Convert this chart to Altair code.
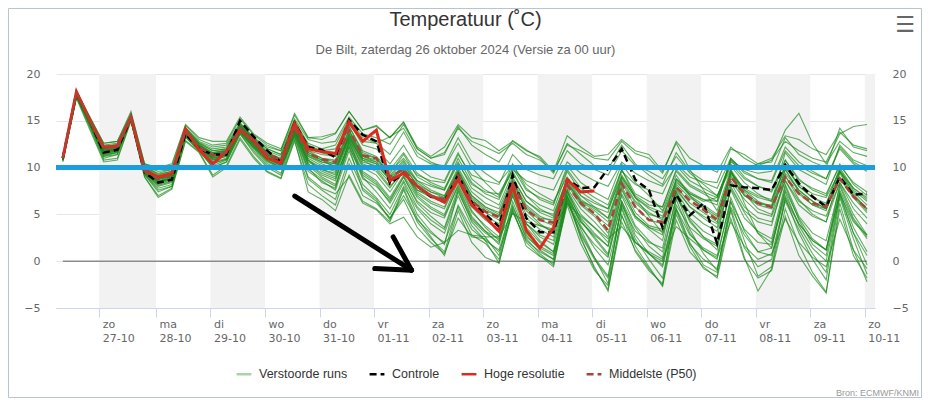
import altair as alt
import pandas as pd

TITLE = "Temperatuur (˚C)"
SUBTITLE = "De Bilt, zaterdag 26 oktober 2024 (Versie za 00 uur)"
SOURCE = "Bron: ECMWF/KNMI"
MENU = "☰"
SERIES = ["Verstoorde runs", "Controle", "Hoge resolutie", "Middelste (P50)"]
COLORS = ["#a8d4a8", "#000000", "#dd2a1f", "#a8453b"]
DASHES = [[1, 0], [7, 4], [1, 0], [7, 4]]

# forecast steps: hours after Sunday 27-10 00:00 local time (6-hourly)
STEP_HOURS = [-16 + 6 * i for i in range(60)]

DAY_TICKS = [0, 25, 49, 73, 97, 121, 145, 169, 193, 217, 241, 265, 289, 313, 337]
DAY_NAMES = ["zo", "ma", "di", "wo", "do", "vr", "za", "zo", "ma", "di", "wo", "do", "vr", "za", "zo"]
DAY_DATES = ["27-10", "28-10", "29-10", "30-10", "31-10", "01-11", "02-11", "03-11",
             "04-11", "05-11", "06-11", "07-11", "08-11", "09-11", "10-11"]
X_DOMAIN = [-19, 341.5]
Y_DOMAIN = [-5, 20]
Y_TICKS = [-5, 0, 5, 10, 15, 20]
MARK_LEVEL = 10

CONTROLE = [11.0, 18.0, 15.0, 11.6, 11.9, 15.3, 9.5, 8.4, 8.7, 13.6, 12.0, 11.4, 11.4, 15.0, 13.3, 11.8, 10.6,
            14.8, 12.2, 11.9, 11.1, 15.1, 13.5, 12.8, 8.3, 9.4, 8.0, 6.9, 6.4,
            9.2, 6.3, 5.0, 3.7, 9.2, 4.6, 3.1, 3.1, 8.7, 7.8, 7.9, 9.9,
            12.0, 8.7, 7.6, 3.6, 7.1, 4.9, 6.2, 1.9, 8.1, 7.9, 7.8, 7.6,
            10.3, 8.3, 6.9, 5.8, 9.0, 7.1, 7.2]
HOGE_RES = [11.0, 18.1, 15.0, 12.2, 12.3, 15.4, 9.7, 9.0, 9.4, 14.1, 11.9, 10.4, 11.7, 14.0, 12.9, 11.0, 10.5,
            14.7, 12.0, 11.7, 11.5, 14.9, 12.8, 14.0, 8.6, 9.4, 8.0, 7.0, 6.3,
            8.7, 6.0, 4.7, 3.2, 8.1, 3.3, 1.4, 3.6, 8.7, 7.4, 7.5]
P50 = [11.0, 18.0, 15.0, 12.0, 12.2, 15.4, 9.6, 8.8, 9.2, 13.9, 12.2, 11.3, 11.6, 14.2, 12.6, 11.5, 10.8,
       14.2, 11.5, 10.9, 10.6, 14.0, 11.3, 11.0, 9.0, 9.8, 8.0, 7.0, 6.6,
       9.2, 6.4, 5.3, 4.7, 8.3, 5.5, 4.4, 4.1, 8.1, 6.2, 5.1, 3.3,
       8.3, 5.8, 4.4, 4.2, 7.9, 6.5, 5.5, 4.4, 9.0, 7.2, 6.2, 5.8,
       9.0, 7.2, 6.2, 5.8, 8.8, 6.9, 5.6]

MEMBERS = [
    [11.0, 17.9, 15.2, 12.4, 12.6, 15.6, 10.2, 9.6, 9.8, 14.2, 12.8, 12.2, 12.4, 14.8, 13.2, 12.2, 11.8,
     15.2, 13.0, 12.6, 12.8, 15.4, 13.6, 13.2, 12.5, 14.6, 12.0, 11.0, 11.6,
     14.2, 12.8, 12.2, 11.5, 12.6, 11.4, 10.8, 9.6, 12.4, 11.8, 11.0, 10.8,
     12.8, 11.5, 11.0, 9.4, 12.8, 11.0, 10.2, 9.5, 12.2, 11.0, 10.2, 10.8,
     12.8, 11.8, 11.0, 10.6, 13.6, 14.4, 14.6],
    [10.8, 17.6, 14.4, 11.0, 11.4, 15.2, 9.2, 7.4, 8.0, 13.2, 11.8, 10.0, 10.6, 13.6, 11.8, 10.2, 9.4,
     13.6, 10.0, 8.4, 7.8, 12.8, 9.0, 7.4, 5.6, 8.4, 5.0, 3.2, 1.8,
     7.6, 4.2, 2.6, 0.6, 6.4, 2.8, 1.2, 0.2, 7.0, 3.4, 0.4, -2.4,
     6.2, 2.4, 0.2, -1.8, 5.6, 2.0, -0.4, -1.2, 6.4, 2.2, -1.6, -0.6,
     6.8, 3.0, 0.2, -2.0, 6.8, 2.4, -1.4],
    [11.1, 18.1, 15.1, 12.2, 12.4, 15.5, 10.0, 9.0, 9.4, 14.0, 12.5, 11.6, 11.9, 14.5, 13.0, 11.6, 11.0,
     14.6, 11.8, 11.4, 11.2, 14.4, 11.8, 11.2, 9.8, 11.6, 9.4, 8.4, 7.8,
     10.6, 7.8, 6.8, 6.0, 9.4, 7.0, 6.0, 5.4, 9.6, 7.4, 6.4, 5.6,
     9.8, 7.2, 6.4, 5.8, 9.6, 8.0, 7.2, 6.4, 10.4, 8.8, 8.0, 7.6,
     10.8, 8.6, 7.8, 7.2, 10.2, 8.4, 7.4],
    [10.9, 17.8, 14.8, 11.8, 12.0, 15.3, 9.6, 8.6, 8.8, 13.8, 12.2, 11.0, 11.4, 14.2, 12.6, 11.2, 10.4,
     14.2, 11.2, 10.4, 9.8, 13.2, 10.4, 9.8, 8.0, 9.6, 7.4, 6.4, 5.8,
     9.0, 6.2, 4.8, 4.0, 8.0, 5.0, 3.8, 3.2, 7.8, 5.6, 4.2, 2.6,
     8.0, 5.2, 3.8, 3.4, 7.6, 5.8, 4.6, 3.6, 8.6, 6.6, 5.2, 4.8,
     8.6, 6.4, 5.4, 4.8, 8.4, 6.2, 4.6],
    [11.0, 18.0, 15.3, 12.6, 12.8, 15.8, 10.4, 10.0, 10.4, 14.6, 13.2, 12.8, 12.8, 15.4, 13.6, 12.6, 12.0,
     15.6, 13.2, 13.0, 13.6, 16.0, 14.0, 14.4, 13.2, 14.8, 12.2, 11.2, 12.2,
     14.6, 13.2, 12.9, 11.8, 12.8, 11.8, 11.2, 9.6, 13.4, 12.2, 11.2, 11.4,
     13.0, 11.8, 11.4, 9.6, 12.6, 9.8, 7.6, 5.4, 9.8, 6.2, 3.0, 1.4,
     8.0, 4.4, 1.8, 0.6, 7.4, 3.6, 1.0],
    [10.7, 17.5, 14.2, 10.8, 11.0, 15.0, 9.0, 7.0, 7.8, 12.9, 11.7, 9.2, 10.2, 13.2, 11.2, 9.6, 8.9,
     13.0, 7.4, 6.6, 5.4, 9.2, 6.4, 5.6, 4.2, 7.6, 4.2, 2.4, 1.0,
     6.0, 3.4, 2.2, -0.2, 5.4, 2.0, 0.6, -0.6, 6.4, 2.6, -0.8, -3.0,
     4.2, 1.2, -0.8, -2.6, 6.8, 4.6, 3.2, 2.4, 9.6, 7.6, 6.8, 6.4,
     11.6, 9.8, 9.0, 8.2, 12.4, 10.8, 10.2],
    [11.0, 17.9, 14.9, 11.9, 12.1, 15.4, 9.8, 8.8, 9.2, 13.9, 12.3, 11.2, 11.6, 14.2, 12.8, 11.4, 10.6,
     14.0, 10.8, 9.6, 9.0, 12.4, 8.8, 8.0, 6.4, 9.0, 6.4, 5.2, 4.6,
     8.2, 5.2, 3.8, 2.6, 7.4, 4.0, 2.6, 1.8, 7.0, 4.2, 2.6, 0.8,
     7.2, 4.6, 3.4, 2.2, 8.8, 7.4, 6.6, 6.0, 11.0, 9.4, 8.8, 8.6,
     12.2, 10.6, 9.6, 8.8, 12.0, 10.4, 9.6],
    [11.1, 18.2, 15.2, 12.3, 12.4, 15.6, 10.1, 9.3, 9.6, 14.2, 12.6, 11.8, 12.0, 14.6, 13.1, 12.0, 11.4,
     15.0, 12.6, 12.0, 12.4, 15.2, 13.2, 12.6, 11.4, 13.8, 11.2, 10.4, 10.2,
     13.2, 10.6, 9.4, 8.4, 10.2, 8.2, 7.2, 6.4, 9.0, 7.0, 5.8, 4.6,
     8.6, 6.2, 5.0, 4.6, 8.2, 6.8, 5.8, 4.8, 9.4, 7.4, 6.2, 5.8,
     9.4, 7.6, 6.4, 5.6, 9.0, 7.0, 5.6],
    [10.9, 17.7, 14.6, 11.4, 11.8, 15.2, 9.4, 8.2, 8.6, 13.6, 12.0, 10.6, 11.0, 13.9, 12.2, 10.8, 10.0,
     13.8, 10.6, 9.8, 9.4, 13.6, 11.0, 10.4, 8.6, 10.4, 8.0, 7.0, 6.2,
     9.6, 6.8, 5.6, 4.8, 8.6, 5.4, 4.0, 3.0, 7.6, 4.4, 2.4, 0.6,
     6.4, 2.8, 0.8, -0.6, 5.4, 1.8, 0.2, -0.8, 5.6, 1.4, -0.6, 0.2,
     6.4, 3.4, 0.8, -1.2, 7.2, 3.0, -0.4],
    [11.0, 18.0, 15.0, 12.0, 12.3, 15.5, 9.9, 9.0, 9.3, 14.0, 12.4, 11.4, 11.8, 14.4, 12.9, 11.6, 10.8,
     14.4, 11.6, 11.0, 10.8, 14.0, 11.4, 11.0, 9.2, 10.8, 8.6, 7.6, 7.0,
     10.0, 7.4, 6.2, 5.6, 9.0, 6.4, 5.2, 4.6, 8.6, 6.4, 5.4, 4.2,
     9.0, 6.8, 5.6, 4.8, 8.4, 7.2, 6.4, 6.8, 10.6, 9.8, 10.4, 10.6,
     14.0, 15.8, 12.6, 10.4, 12.8, 11.6, 11.2],
    [10.8, 17.6, 14.5, 11.2, 11.6, 15.1, 9.3, 7.8, 8.2, 13.4, 11.9, 10.2, 10.8, 13.7, 12.0, 10.4, 9.8,
     13.4, 9.6, 8.6, 7.6, 11.8, 8.2, 6.8, 5.0, 8.0, 5.6, 4.0, 3.0,
     7.0, 3.8, 2.2, 1.2, 6.0, 2.4, 0.8, -0.4, 6.6, 3.0, 0.4, -1.6,
     5.8, 2.0, 0.8, -0.4, 6.0, 3.6, 2.4, 1.6, 8.0, 5.4, 4.2, 3.8,
     9.2, 6.6, 5.0, 4.2, 9.6, 7.4, 6.0],
    [11.0, 18.1, 15.1, 12.1, 12.2, 15.4, 9.7, 8.9, 9.0, 13.9, 12.2, 11.4, 11.6, 14.3, 12.7, 11.3, 10.7,
     14.3, 11.4, 10.6, 10.2, 13.4, 10.6, 10.2, 8.8, 9.8, 7.6, 6.8, 6.6,
     9.4, 6.6, 5.4, 4.8, 8.4, 5.8, 4.6, 4.4, 8.4, 6.4, 5.8, 5.2,
     9.6, 8.2, 7.6, 7.2, 10.4, 9.0, 8.4, 7.8, 11.0, 9.6, 8.8, 8.4,
     11.8, 10.2, 9.4, 8.8, 12.2, 10.6, 9.8],
    [10.9, 17.8, 14.7, 11.6, 11.8, 15.2, 9.5, 8.4, 8.8, 13.7, 12.1, 10.8, 11.2, 14.0, 12.4, 11.0, 10.2,
     14.0, 10.4, 9.2, 8.6, 12.8, 9.6, 8.6, 6.8, 9.2, 6.8, 5.6, 4.8,
     8.0, 4.8, 3.2, 1.8, 7.0, 3.6, 2.0, 1.0, 7.0, 2.4, -0.6, -3.2,
     5.0, 1.0, -1.0, -2.4, 5.0, 1.6, -0.8, -1.6, 5.4, 0.4, -3.2, -0.8,
     5.6, 1.8, -1.2, -3.3, 6.2, 1.2, -2.2],
    [11.0, 18.0, 15.1, 12.0, 12.2, 15.4, 9.9, 8.9, 9.2, 14.0, 12.4, 11.5, 11.8, 14.4, 12.9, 11.5, 10.9,
     14.5, 12.2, 11.8, 11.6, 14.8, 12.4, 12.0, 10.4, 12.4, 10.0, 9.0, 8.6,
     11.6, 8.8, 7.6, 6.8, 10.4, 7.8, 6.6, 6.0, 10.2, 8.4, 7.4, 6.6,
     10.4, 8.4, 7.0, 5.4, 9.2, 7.0, 5.6, 4.6, 9.6, 7.2, 5.6, 5.0,
     9.8, 7.4, 6.0, 5.4, 9.4, 7.0, 5.4],
    [10.8, 17.7, 14.6, 11.4, 11.6, 15.2, 9.4, 8.0, 8.4, 13.5, 11.9, 10.4, 10.9, 13.8, 12.1, 10.6, 9.9,
     13.6, 9.8, 8.8, 8.0, 12.2, 7.6, 6.4, 4.6, 7.0, 4.4, 3.0, 2.0,
     5.8, 2.8, 1.9, 0.2, 5.8, 2.6, 1.4, 0.6, 6.8, 4.2, 2.8, 1.6,
     7.6, 4.8, 3.6, 2.8, 7.4, 4.2, 2.6, 1.8, 7.6, 4.6, 3.2, 2.4,
     8.2, 4.8, 3.0, 2.2, 8.0, 4.6, 2.6],
    [11.0, 18.0, 14.9, 11.9, 12.1, 15.4, 9.8, 8.8, 9.0, 13.9, 12.3, 11.3, 11.6, 14.3, 12.7, 11.4, 10.6,
     14.3, 11.2, 10.6, 10.4, 13.8, 11.2, 10.8, 9.4, 11.4, 9.0, 8.2, 7.6,
     11.0, 8.4, 7.2, 6.6, 10.0, 7.6, 6.8, 6.2, 9.8, 7.8, 6.8, 6.0,
     9.8, 6.8, 4.8, 3.0, 7.2, 3.4, 0.8, -1.0, 5.8, 2.8, 1.0, 0.6,
     6.6, 4.0, 2.2, 1.2, 7.2, 4.2, 2.8],
    [10.6, 17.4, 14.0, 10.6, 10.8, 15.0, 9.0, 6.8, 7.7, 12.8, 11.6, 9.0, 10.0, 13.0, 11.0, 9.5, 8.8,
     12.8, 8.2, 7.0, 6.0, 10.4, 7.0, 6.2, 4.6, 6.6, 3.6, 2.0, 0.8,
     4.6, 2.6, 2.4, 1.0, 5.2, 2.2, 1.0, 0.2, 6.2, 3.6, 1.8, 0.4,
     6.4, 3.6, 1.6, 0.4, 7.0, 4.4, 2.6, 1.2, 7.8, 5.2, 3.0, 2.0,
     7.6, 4.6, 2.4, 1.2, 8.2, 5.0, 2.8],
    [11.1, 18.2, 15.4, 12.6, 12.8, 16.0, 10.4, 9.8, 10.2, 14.5, 13.0, 12.4, 12.6, 15.2, 13.5, 12.4, 11.8,
     15.8, 13.2, 13.3, 13.7, 16.0, 14.0, 14.5, 13.2, 14.9, 12.0, 11.0, 11.4,
     14.4, 12.4, 11.4, 10.6, 12.9, 11.9, 11.0, 9.4, 12.6, 11.4, 10.2, 9.8,
     12.4, 10.4, 9.2, 8.2, 11.6, 9.6, 8.6, 8.4, 12.0, 11.4, 10.4, 11.0,
     13.4, 13.0, 12.0, 11.4, 13.8, 12.4, 12.0],
    [10.9, 17.9, 14.8, 11.8, 12.0, 15.3, 9.7, 8.6, 9.0, 13.8, 12.2, 11.1, 11.5, 14.1, 12.6, 11.2, 10.5,
     14.1, 11.0, 10.2, 9.8, 13.4, 10.8, 10.4, 8.8, 9.4, 7.6, 7.0, 6.8,
     9.2, 6.4, 5.2, 4.4, 8.2, 5.6, 4.4, 3.8, 8.2, 6.0, 4.8, 3.0,
     8.4, 5.8, 4.4, 4.0, 8.0, 6.2, 5.2, 4.2, 9.2, 7.0, 6.0, 5.6,
     9.0, 7.2, 6.0, 5.6, 8.8, 6.8, 5.2],
    [10.9, 17.8, 14.7, 11.5, 11.8, 15.3, 9.5, 8.3, 8.7, 13.7, 12.0, 10.8, 11.2, 14.0, 12.4, 10.9, 10.2,
     13.9, 10.8, 10.0, 9.6, 13.0, 10.0, 9.2, 7.4, 9.6, 7.0, 5.8, 5.0,
     8.6, 5.4, 3.6, 2.2, 7.6, 4.0, 2.2, 1.0, 7.4, 3.8, 1.4, -0.4,
     5.6, 1.6, -0.6, -2.7, 4.4, 1.0, -0.6, -1.8, 4.6, 0.2, -1.8, -1.0,
     4.8, 0.6, -1.6, -3.4, 5.6, 0.6, -1.8],
    [11.0, 18.1, 15.0, 12.1, 12.3, 15.5, 10.0, 9.2, 9.6, 14.1, 12.6, 11.8, 12.0, 14.6, 13.0, 11.8, 11.2,
     14.8, 12.4, 11.8, 12.0, 14.6, 12.8, 12.6, 13.3, 14.2, 11.6, 10.6, 10.0,
     12.6, 10.0, 8.4, 7.0, 9.6, 7.0, 5.6, 4.8, 8.8, 6.6, 5.6, 4.6,
     9.2, 7.0, 6.0, 5.8, 9.8, 8.2, 7.4, 6.8, 10.8, 9.0, 8.0, 7.4,
     10.8, 8.8, 7.6, 7.0, 10.4, 8.2, 7.0],
    [10.8, 17.7, 14.5, 11.2, 11.4, 15.1, 9.3, 7.6, 8.0, 13.3, 11.8, 10.0, 10.6, 13.6, 11.6, 10.0, 9.2,
     13.2, 8.8, 7.6, 6.6, 11.0, 7.8, 6.6, 4.4, 7.8, 4.6, 2.6, 0.6,
     5.4, 2.0, 0.4, -0.2, 5.6, 1.6, 0.5, -0.2, 6.0, 1.9, -1.0, -2.6,
     4.8, 2.0, 0.8, 0.0, 5.6, 2.8, 1.4, 0.6, 6.4, 3.4, 2.0, 1.8,
     7.0, 4.0, 2.2, 1.2, 7.6, 4.4, 2.4],
    [11.0, 18.0, 15.0, 12.1, 12.3, 15.5, 9.9, 9.0, 9.4, 14.0, 12.4, 11.6, 11.8, 14.4, 12.9, 11.6, 10.9,
     14.6, 11.8, 11.0, 10.6, 14.0, 11.2, 10.6, 9.0, 10.0, 8.2, 7.4, 7.0,
     9.6, 7.0, 5.8, 5.2, 8.8, 6.4, 5.4, 5.0, 8.8, 7.0, 6.2, 5.6,
     9.0, 6.8, 5.8, 5.2, 8.6, 7.0, 6.0, 5.0, 9.4, 7.8, 7.0, 6.6,
     10.0, 8.2, 7.2, 6.8, 9.6, 7.8, 6.8],
    [10.9, 17.9, 14.9, 11.8, 12.0, 15.3, 9.7, 8.7, 9.1, 13.9, 12.3, 11.2, 11.6, 14.2, 12.7, 11.3, 10.6,
     14.2, 11.4, 10.8, 10.0, 13.2, 10.8, 10.0, 8.4, 10.2, 8.6, 8.0, 7.6,
     10.4, 8.2, 7.4, 7.2, 9.8, 8.6, 8.0, 7.6, 10.6, 9.4, 8.6, 8.0,
     10.6, 9.4, 8.6, 8.0, 10.2, 8.6, 7.8, 7.0, 10.2, 8.4, 7.2, 6.4,
     10.2, 8.0, 6.8, 6.2, 9.8, 7.6, 6.4],
    [10.9, 17.8, 14.8, 11.7, 11.9, 15.3, 9.6, 8.5, 8.9, 13.8, 12.1, 11.0, 11.4, 14.1, 12.5, 11.0, 10.3,
     13.9, 10.4, 9.4, 8.8, 12.6, 9.4, 8.4, 6.6, 9.0, 6.2, 4.8, 3.6,
     7.8, 4.6, 3.2, 2.4, 7.0, 3.0, 1.6, 0.8, 6.6, 2.8, 0.2, -1.8,
     6.0, 3.2, 2.0, 1.4, 7.8, 5.8, 4.8, 4.0, 9.0, 7.0, 6.2, 6.0,
     10.4, 8.0, 6.8, 6.0, 10.0, 7.8, 6.6],
    [11.0, 18.1, 15.1, 12.2, 12.5, 15.6, 10.1, 9.4, 9.8, 14.3, 12.7, 12.0, 12.2, 14.7, 13.2, 12.0, 11.4,
     14.9, 12.4, 11.6, 11.2, 14.4, 11.6, 11.0, 9.6, 11.0, 9.2, 8.6, 8.4,
     11.4, 9.2, 8.6, 8.2, 11.4, 9.8, 9.2, 8.8, 11.8, 10.4, 9.8, 9.2,
     11.8, 10.2, 9.6, 8.8, 11.2, 9.4, 8.2, 7.0, 9.8, 7.6, 6.4, 5.8,
     9.8, 7.6, 6.4, 5.6, 9.6, 7.2, 5.6],
    [10.8, 17.7, 14.6, 11.3, 11.7, 15.2, 9.4, 8.1, 8.5, 13.5, 11.9, 10.5, 10.9, 13.8, 12.2, 10.7, 10.0,
     13.7, 10.2, 9.0, 8.2, 12.2, 9.2, 8.2, 6.2, 8.6, 5.8, 4.4, 3.4,
     7.4, 4.4, 3.0, 2.0, 7.2, 4.0, 2.8, 2.2, 7.4, 4.6, 3.0, 1.6,
     7.0, 3.8, 2.2, 1.0, 6.6, 3.0, 1.2, 0.2, 6.8, 3.2, 1.0, 1.4,
     7.4, 3.8, 1.4, 0.0, 7.0, 3.0, 0.6],
    [10.9, 17.8, 14.7, 11.6, 11.9, 15.3, 9.6, 8.4, 8.8, 13.7, 12.1, 10.9, 11.3, 14.0, 12.3, 10.8, 10.0,
     13.4, 9.0, 7.8, 7.2, 9.0, 6.2, 5.5, 4.0, 4.7, 2.6, 1.5, 2.0,
     3.3, 2.8, 2.6, 2.6, 5.1, 4.2, 3.8, 3.4, 6.2, 4.8, 3.6, 2.4,
     3.7, 2.0, 1.0, 0.2, 3.7, 2.4, 1.2, 0.4, 4.2, 1.6, 0.2, 0.8,
     4.5, 2.0, 0.4, -0.6, 4.5, 1.2, -0.8],
    [11.0, 18.0, 15.0, 12.0, 12.2, 15.4, 9.8, 8.9, 9.2, 13.9, 12.3, 11.3, 11.7, 14.3, 12.8, 11.5, 10.7,
     14.4, 11.6, 10.8, 10.4, 13.6, 11.0, 10.6, 9.0, 10.6, 8.4, 7.4, 6.8,
     9.8, 7.0, 5.8, 5.0, 8.6, 6.0, 4.8, 4.2, 8.4, 6.2, 5.0, 3.8,
     8.8, 6.4, 5.2, 4.4, 8.8, 7.2, 6.6, 6.4, 10.8, 9.8, 9.4, 9.6,
     13.2, 11.4, 10.6, 10.0, 14.2, 12.2, 11.8],
    [10.9, 17.8, 14.8, 11.7, 11.9, 15.3, 9.6, 8.5, 8.9, 13.8, 12.1, 11.0, 11.4, 14.1, 12.5, 11.0, 10.3,
     14.0, 10.8, 9.8, 9.2, 13.0, 10.2, 9.6, 7.8, 9.8, 7.2, 6.2, 5.6,
     8.8, 5.8, 4.4, 3.4, 7.8, 4.6, 3.4, 2.6, 7.6, 5.0, 3.6, 2.0,
     7.8, 4.8, 3.6, 3.2, 7.4, 5.2, 4.0, 3.2, 8.4, 5.8, 4.6, 4.2,
     8.6, 6.0, 4.8, 4.2, 8.4, 5.6, 4.0],
]

# arrow annotation drawn on the chart (time in hours, temperature in degC)
ARROW = [
    {"t": 86.1, "v": 6.95, "t2": 137.5, "v2": -0.96},
    {"t": 137.5, "v": -0.96, "t2": 129.4, "v2": 2.6},
    {"t": 137.5, "v": -0.96, "t2": 121.3, "v2": -0.78},
]

PLOT_W, PLOT_H = 819, 234
FONT_TEXT = "Liberation Sans"
FONT_AXIS = "DejaVu Sans"

# ---------------- data tables ----------------
member_rows = []
for m, vals in enumerate(MEMBERS):
    for t, v in zip(STEP_HOURS, vals):
        member_rows.append({"t": t, "v": v, "m": m})
members_df = pd.DataFrame(member_rows)


def series_df(values, name):
    return pd.DataFrame({"t": STEP_HOURS[:len(values)], "v": values, "series": name})


ctrl_df = series_df(CONTROLE, SERIES[1])
hres_df = series_df(HOGE_RES, SERIES[2])
p50_df = series_df(P50, SERIES[3])

edges = DAY_TICKS + [X_DOMAIN[1]]
bands_df = pd.DataFrame([{"s": edges[k], "e": edges[k + 1]} for k in range(0, len(DAY_TICKS), 2)])
zero_df = pd.DataFrame([{"t": STEP_HOURS[0], "t2": STEP_HOURS[-1], "v": 0}])
level_df = pd.DataFrame([{"v": MARK_LEVEL}])
arrow_df = pd.DataFrame(ARROW)
one_df = pd.DataFrame([{"k": 0}])

labels_js = "[" + ",".join("['%s','%s']" % (n, d) for n, d in zip(DAY_NAMES, DAY_DATES)) + "]"
label_expr = labels_js + "[round(datum.value / 24)]"

x_scale = alt.Scale(domain=X_DOMAIN, nice=False, zero=False)
y_scale = alt.Scale(domain=Y_DOMAIN, nice=False, zero=False)

x_axis = alt.Axis(values=DAY_TICKS, labelExpr=label_expr, labelAlign="left", labelBaseline="top",
                  labelOffset=3, labelPadding=1, labelLineHeight=14, tickSize=9, tickColor="#ccd6eb",
                  domainColor="#ccd6eb", grid=False, title=None, labelFont=FONT_AXIS, labelFontSize=11,
                  labelColor="#666666", labelFlush=False, labelOverlap=False)
y_left = alt.Axis(orient="left", values=Y_TICKS, grid=True, gridColor="#e6e6e6", ticks=False, domain=False,
                  labelPadding=16, labelColor="#666666", labelFont=FONT_AXIS, labelFontSize=11, title=None)
y_right = alt.Axis(orient="right", values=Y_TICKS, grid=False, ticks=False, domain=False, labelAlign="left",
                   labelPadding=17, labelColor="#666666", labelFont=FONT_AXIS, labelFontSize=11, title=None)

X = alt.X("t:Q", scale=x_scale, axis=x_axis)
X2 = alt.X2("t2:Q")
Y = alt.Y("v:Q", scale=y_scale, axis=y_left)

legend = alt.Legend(title=None, orient="none", legendX=179, legendY=291, direction="horizontal",
                    columns=4, symbolType="stroke", symbolStrokeWidth=2.5, symbolSize=220,
                    labelFont=FONT_TEXT, labelFontSize=12.5, labelColor="#333333",
                    columnPadding=16, labelOffset=6, padding=0)
color = alt.Color("series:N", scale=alt.Scale(domain=SERIES, range=COLORS), legend=legend)
dash = alt.StrokeDash("series:N", scale=alt.Scale(domain=SERIES, range=DASHES), legend=legend)

bands = alt.Chart(bands_df).mark_rect(color="#f2f2f2").encode(
    x=alt.X("s:Q", scale=x_scale, axis=x_axis), x2="e:Q")
zero = alt.Chart(zero_df).mark_rule(color="#8c8c8c", strokeWidth=1.5).encode(x=X, x2=X2, y=Y)
greens = alt.Chart(members_df).mark_line(color="#188818", strokeWidth=1.1, opacity=0.68).encode(
    x=X, y=Y, detail="m:N")
ctrl = alt.Chart(ctrl_df).mark_line(strokeWidth=2.5).encode(x=X, y=Y, color=color, strokeDash=dash)
hres = alt.Chart(hres_df).mark_line(strokeWidth=3).encode(x=X, y=Y, color=color, strokeDash=dash)
p50 = alt.Chart(p50_df).mark_line(strokeWidth=2.5).encode(x=X, y=Y, color=color, strokeDash=dash)
level = alt.Chart(level_df).mark_rule(color="#1a9ee0", strokeWidth=5).encode(y=Y)
arrow = alt.Chart(arrow_df).mark_rule(color="black", strokeWidth=5, strokeCap="round").encode(
    x=X, x2=X2, y=Y, y2="v2:Q")

frame = alt.Chart(one_df).mark_rect(fillOpacity=0, stroke="#b8c4d0", strokeWidth=1).encode(
    x=alt.value(-47.5), x2=alt.value(865.5), y=alt.value(-65.5), y2=alt.value(323.5))
title = alt.Chart(one_df).mark_text(text=TITLE, align="center", baseline="middle", font=FONT_TEXT,
                                    fontSize=20, color="#333333").encode(
    x=alt.value(PLOT_W / 2), y=alt.value(-54))
subtitle = alt.Chart(one_df).mark_text(text=SUBTITLE, align="center", baseline="middle", font=FONT_TEXT,
                                       fontSize=13, color="#666666").encode(
    x=alt.value(PLOT_W / 2), y=alt.value(-24))
source = alt.Chart(one_df).mark_text(text=SOURCE, align="right", baseline="middle", font=FONT_TEXT,
                                     fontSize=9, color="#999999").encode(x=alt.value(863), y=alt.value(319))
menu = alt.Chart(one_df).mark_text(text=MENU, align="center", baseline="middle", font=FONT_AXIS,
                                   fontSize=22, fontWeight="bold", color="#666666").encode(
    x=alt.value(849), y=alt.value(-49))

right_axis = alt.Chart(level_df).mark_point(opacity=0).encode(
    x=alt.X("t0:Q", scale=x_scale, axis=x_axis), y=alt.Y("v:Q", scale=y_scale, axis=y_right)
).transform_calculate(t0="0")

main = alt.layer(bands, zero, greens, ctrl, hres, p50, level, arrow, frame, title, subtitle, source, menu)

chart = alt.layer(main, right_axis).resolve_axis(y="independent").properties(
    width=PLOT_W, height=PLOT_H,
    padding={"left": 48, "top": 66, "right": 47, "bottom": 90},
    autosize=alt.AutoSizeParams(type="none"),
).configure_view(strokeWidth=0)

chart.save("out.html", embed_options={"renderer": "svg", "actions": False})
